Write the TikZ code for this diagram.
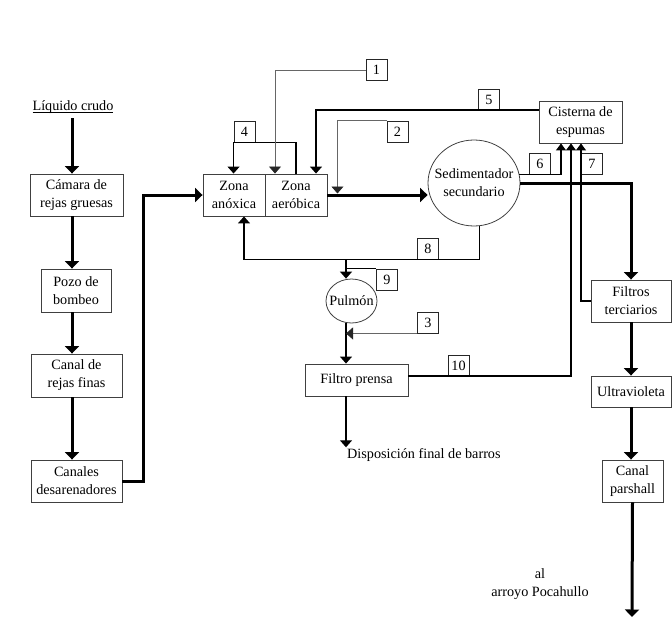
\documentclass[tikz,border=0pt]{standalone}
\usepackage{fontspec}
\setmainfont{Liberation Serif}
\usetikzlibrary{arrows.meta,shapes.geometric}
\newsavebox{\liqbox}
\begin{document}
\begin{tikzpicture}[x=1pt,y=-1pt,
  every node/.style={font=\fontsize{14.2}{18}\selectfont},
  box/.style={draw=black!75,line width=0.9pt,inner sep=0pt,align=center},
  num/.style={draw=black!85,line width=0.9pt,inner sep=0pt,minimum width=21pt,minimum height=21pt},
  oval/.style={ellipse,draw=black!75,line width=0.8pt,inner ysep=0pt,align=center},
  heavy/.style={line width=3pt,-{Triangle[width=14pt,length=7.5pt]}},
  med/.style={line width=1.3pt},
  medarrow/.style={med,-{Triangle[width=12pt,length=7pt]}},
  cistarrow/.style={med,-{Triangle[width=10pt,length=7pt]}},
  light/.style={line width=0.8pt,draw=black!60},
  lightarrow/.style={light,-{Triangle[width=12pt,length=7pt,color=black!85]}}
]
\useasboundingbox (0,0) rectangle (672,621);

% text and process nodes
\node (liq) at (73,107) {\sbox{\liqbox}{Líquido crudo}\usebox{\liqbox}\llap{\rule[-2.6pt]{\wd\liqbox}{0.9pt}}};
\coordinate (chainx) at (72,0);
\node[box,minimum width=93pt,minimum height=42pt] (cam) at (76.5,195) {Cámara de\\rejas gruesas};
\node[box,minimum width=70pt,minimum height=43pt] (pozo) at (76,290.5) {Pozo de\\bombeo};
\node[box,minimum width=91pt,minimum height=43pt] (canal) at (76.5,375.5) {Canal de\\rejas finas};
\node[box,minimum width=91pt,minimum height=42pt] (des) at (76.5,481) {Canales\\desarenadores};

\node[box,minimum width=62pt,minimum height=42pt] (anox) at (234,195) {Zona\\anóxica};
\node[box,minimum width=62pt,minimum height=42pt] (aero) at (296,195) {Zona\\aeróbica};
\node[oval,minimum width=92pt,minimum height=86pt,inner xsep=-8pt] (sed) at (474,183) {Sedimentador\\secundario};
\node[box,minimum width=83pt,minimum height=42pt] (cist) at (580.5,122) {Cisterna de\\espumas};
\node[oval,minimum width=51pt,minimum height=44pt,inner xsep=-10pt] (pulmon) at (351.5,301) {Pulmón};
\node[box,minimum width=103pt,minimum height=32pt] (fp) at (356.5,380) {Filtro prensa};
\node[box,minimum width=80pt,minimum height=42pt] (ft) at (631,301) {Filtros\\terciarios};
\node[box,minimum width=80pt,minimum height=31pt] (uv) at (631,391.5) {Ultravioleta};
\node[box,minimum width=61pt,minimum height=42pt] (cp) at (632.5,481) {Canal\\parshall};

\node[anchor=west,inner sep=1pt] (disp) at (346,455) {Disposición final de barros};
\node[align=center] (arroyo) at (540,584) {al\\arroyo Pocahullo};

% number boxes
\node[num] (b1) at (376.5,70) {1};
\node[num] (b2) at (397.5,131.5) {2};
\node[num] (b3) at (428,322.5) {3};
\node[num] (b4) at (244.5,131.5) {4};
\node[num] (b5) at (489,99.5) {5};
\node[num] (b6) at (540,163.5) {6};
\node[num] (b7) at (592,163.5) {7};
\node[num] (b8) at (428,248.5) {8};
\node[num] (b9) at (387,279.5) {9};
\node[num] (b10) at (458.5,365.5) {10};

% main treatment line
\draw[heavy] ([yshift=-1.5pt]liq.south -| chainx) -- (cam.north -| chainx);
\draw[heavy] (cam.south -| chainx) -- (pozo.north -| chainx);
\draw[heavy] (pozo.south -| chainx) -- (canal.north -| chainx);
\draw[heavy] (canal.south -| chainx) -- (des.north -| chainx);
\draw[heavy] (des.east) -- ++(21,0) |- (anox.west);
\draw[heavy] (aero.east) -- (aero.east -| sed.west);
\draw[heavy] (sed.east) -| (ft.north);
\draw[heavy] (ft.south) -- (uv.north);
\draw[heavy] (uv.south) -- (uv.south |- cp.north);
\coordinate (rend) at (632,617);
\draw[heavy] (cp.south) -- (rend);

% recirculations and side streams
\draw[medarrow] (aero.north) |- (b4.south west) -- (anox.north -| b4.south west);
\draw[lightarrow] (b1.west) -| ([xshift=-21pt]aero.north);
\draw[medarrow] ([yshift=12pt]cist.west) -| ([xshift=20pt]aero.north);
\draw[lightarrow] (b2.north west) -| ([xshift=10pt,yshift=1.5pt]aero.east);

\draw[cistarrow] (sed.11) -| ([xshift=-19.5pt]cist.south);
\draw[cistarrow] ([yshift=4pt]fp.east) -| ([xshift=-9.5pt]cist.south);
\draw[cistarrow] (ft.west) -| ([xshift=0.5pt]cist.south);

\draw[medarrow] (sed.-83) |- (b8.south east) -| ([xshift=10pt]anox.south);

\coordinate (vx) at (346,259);
\draw[medarrow] (vx) -- (vx |- pulmon.north);
\draw[med] (vx |- b9.north) -- (b9.north west);
\draw[medarrow] (vx |- pulmon.south) -- (vx |- fp.north);
\draw[lightarrow] (b3.south west) -- (vx |- b3.south);
\draw[medarrow] (vx |- fp.south) -- (vx |- disp.north);
\end{tikzpicture}
\end{document}
